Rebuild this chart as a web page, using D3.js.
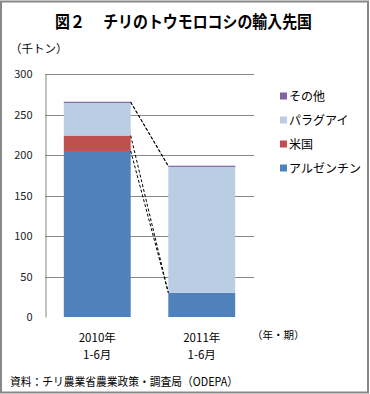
<!DOCTYPE html>
<html><head><meta charset="utf-8">
<script src="https://cdn.jsdelivr.net/npm/d3@7"></script>
<style>body{margin:0;background:#fff}svg{display:block}text{font-family:"Noto Sans CJK JP","Noto Sans",sans-serif;}</style>
</head><body>
<script>
const categories = ["2010年\n1-6月", "2011年\n1-6月"];
const seriesNames = ["アルゼンチン", "米国", "パラグアイ", "その他"];
const argentina = [205, 30];
const usa = [19, 0];
const paraguay = [41, 156];
const other = [0.6, 0.6];
const yTicks = [0, 50, 100, 150, 200, 250, 300];
const colors = ["#4F81BD", "#C0504D", "#B9CDE5", "#8064A2"];

const W = 370, H = 394;
const svg = d3.select("body").append("svg").attr("width", W).attr("height", H);
svg.append("rect").attr("x", 1).attr("y", 1.5).attr("width", 367).attr("height", 391)
  .attr("fill", "#fff").attr("stroke", "#888").attr("stroke-width", 2);

svg.append("text").attr("x", 55).attr("y", 28)
  .attr("font-size", 16.5).attr("font-weight", "bold")
  .attr("textLength", 257).attr("lengthAdjust", "spacingAndGlyphs")
  .text("図２　 チリのトウモロコシの輸入先国");
svg.append("text").attr("x", 10).attr("y", 53).attr("font-size", 11.5).text("（千トン）");

const y = d3.scaleLinear().domain([0, 300]).range([317, 74]);
const x = d3.scaleBand().domain(categories).range([45, 254]).paddingInner(0).paddingOuter(0);
const bw = x.bandwidth() * 0.64;
const bx = c => x(c) + (x.bandwidth() - bw) / 2;

// gridlines
svg.append("g").selectAll("line").data(yTicks.filter(t => t > 0)).join("line")
  .attr("x1", 45).attr("x2", 254).attr("y1", d => Math.round(y(d)) + 0.5).attr("y2", d => Math.round(y(d)) + 0.5)
  .attr("stroke", "#868686").attr("stroke-width", 1);

// y axis
const yAxis = d3.axisLeft(y).tickValues(yTicks).tickSize(0).tickPadding(13);
const gy = svg.append("g").attr("transform", "translate(45.5,0)").call(yAxis);
gy.select(".domain").attr("stroke", "#868686");
gy.selectAll("text").attr("fill", "#222").attr("font-family", "\"DejaVu Sans\",sans-serif").attr("font-size", 11);

// stacked data
const rows = categories.map((c, i) => ({cat: c, a: argentina[i], u: usa[i], p: paraguay[i], o: other[i]}));
const stack = d3.stack().keys(["a", "u", "p", "o"]);
const layers = stack(rows);

layers.forEach((layer, li) => {
  svg.append("g").selectAll("rect").data(layer).join("rect")
    .attr("x", d => bx(d.data.cat)).attr("width", bw)
    .attr("y", d => y(d[1])).attr("height", d => Math.max(0, y(d[0]) - y(d[1])))
    .attr("fill", colors[li]);
});
svg.append("g").selectAll("line").data(layers[3]).join("line")
  .attr("x1", d => bx(d.data.cat)).attr("x2", d => bx(d.data.cat) + bw)
  .attr("y1", d => y(d[1]) + 0.5).attr("y2", d => y(d[1]) + 0.5)
  .attr("stroke", colors[3]).attr("stroke-width", 1);

// series lines
layers.forEach(layer => {
  const a = layer[0], b = layer[1];
  svg.append("line")
    .attr("x1", bx(a.data.cat) + bw).attr("y1", y(a[1]))
    .attr("x2", bx(b.data.cat)).attr("y2", y(b[1]))
    .attr("stroke", "#000").attr("stroke-width", 1).attr("stroke-dasharray", "3,2");
});

// x labels
categories.forEach(c => {
  const lines = c.split("\n");
  const cx = x(c) + x.bandwidth() / 2;
  lines.forEach((t, i) => {
    svg.append("text").attr("x", cx).attr("y", 342 + i * 17).attr("text-anchor", "middle")
      .attr("font-size", 11.5).text(t);
  });
});
svg.append("text").attr("x", 252).attr("y", 339).attr("font-size", 10.5).text("（年・期）");

// legend
const legendOrder = [3, 2, 1, 0];
legendOrder.forEach((si, i) => {
  const ly = 96 + i * 24;
  svg.append("rect").attr("x", 280).attr("y", ly - 3.5).attr("width", 7).attr("height", 7).attr("fill", colors[si]);
  svg.append("text").attr("x", 289).attr("y", ly + 4.5).attr("font-size", 12).text(seriesNames[si]);
});

svg.append("text").attr("x", 10).attr("y", 386).attr("font-size", 11.5)
  .attr("textLength", 228).attr("lengthAdjust", "spacingAndGlyphs")
  .text("資料：チリ農業省農業政策・調査局（ODEPA）");
</script>
</body></html>
